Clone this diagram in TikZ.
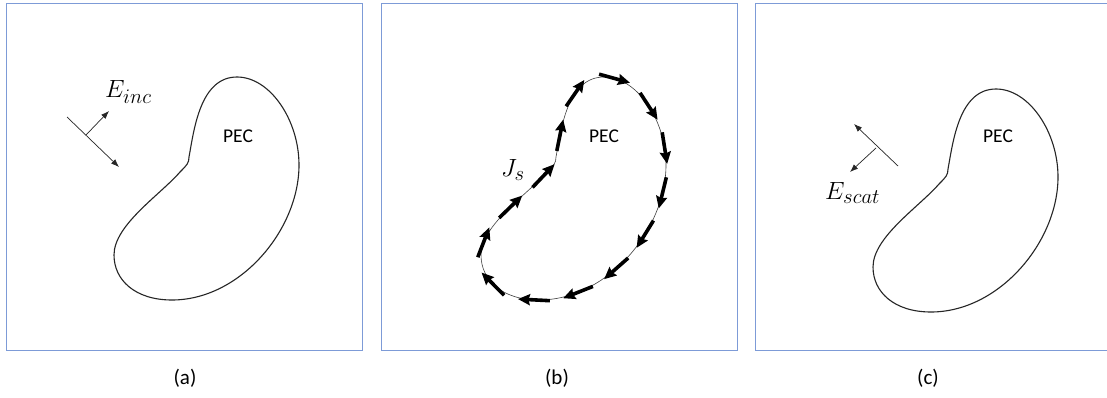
\documentclass[tikz,border=0pt]{standalone}
\usepackage{fontspec}
\setsansfont{Carlito}
\usetikzlibrary{arrows.meta,decorations.markings}
\definecolor{framecol}{RGB}{125,155,215}
\newcommand\kidneypath{(189,157) .. controls (194,130) and (200,77) .. (237,77) .. controls (270,77) and (299,120) .. (299,165) .. controls (299,230) and (240,300) .. (172,300) .. controls (135,300) and (114,280) .. (114,255) .. controls (114,225) and (160,195) .. (180,172) .. controls (187,165) and (189,163) .. cycle}
\tikzset{
  panel/.style={draw=framecol,line width=0.9pt},
  blob/.style={draw=black!85,line width=1.1pt},
  thinblob/.style={draw=black!75,line width=0.6pt},
  field/.style={draw=black!85,line width=0.7pt,-{Latex[length=8pt,width=6pt]}},
  pectext/.style={font=\sffamily\fontsize{19.5}{19.5}\selectfont},
  caplabel/.style={font=\sffamily\fontsize{21}{21}\selectfont},
  mathlabel/.style={font=\fontsize{28}{28}\selectfont,inner sep=0pt},
  current/.style={postaction={decorate},decoration={markings,
     mark=between positions 0.035 and 1 step 0.0714 with {\draw[draw=black,fill=black,line width=3.6pt,-{Stealth[length=12pt,width=11pt,inset=1.5pt]}] (-16pt,0) -- (16pt,0);}}}
}
\begin{document}
\begin{tikzpicture}[x=1pt,y=-1pt]
\useasboundingbox (0,0) rectangle (1107,398);
\fill[white] (0,0) rectangle (1107,398);
% frames
\draw[panel] (6,3) rectangle (362,350);
\draw[panel] (381,3) rectangle (737,350);
\draw[panel] (755,3) rectangle (1112,350);
% panel (a)
\draw[blob] \kidneypath;
\node[pectext] (pecA) at (238,136) {PEC};
\coordinate (a1) at (67,117);
\coordinate (a2) at (119,167);
\coordinate (a3) at (86,135);
\coordinate (a4) at (109,111);
\draw[field] (a1) -- (a2);
\draw[field] (a3) -- (a4);
\node[mathlabel,anchor=base west] (einc) at (105,98) {$E_{inc}$};
\node[caplabel] (capA) at (185,378) {(a)};
% panel (b)
\begin{scope}[shift={(367,0)}]
\draw[thinblob,current] \kidneypath;
\end{scope}
\node[pectext] (pecB) at (604,136) {PEC};
\node[mathlabel,anchor=base west] (js) at (501,177) {$J_s$};
\node[caplabel] (capB) at (557,378) {(b)};
% panel (c)
\begin{scope}[shift={(759,12)}]
\draw[blob] \kidneypath;
\end{scope}
\node[pectext] (pecC) at (998,136) {PEC};
\coordinate (c1) at (898,166);
\coordinate (c2) at (854,124);
\coordinate (c3) at (876,148);
\coordinate (c4) at (850,172);
\draw[field] (c1) -- (c2);
\draw[field] (c3) -- (c4);
\node[mathlabel,anchor=base west] (escat) at (825,199) {$E_{scat}$};
\node[caplabel] (capC) at (928,378) {(c)};
\end{tikzpicture}
\end{document}
